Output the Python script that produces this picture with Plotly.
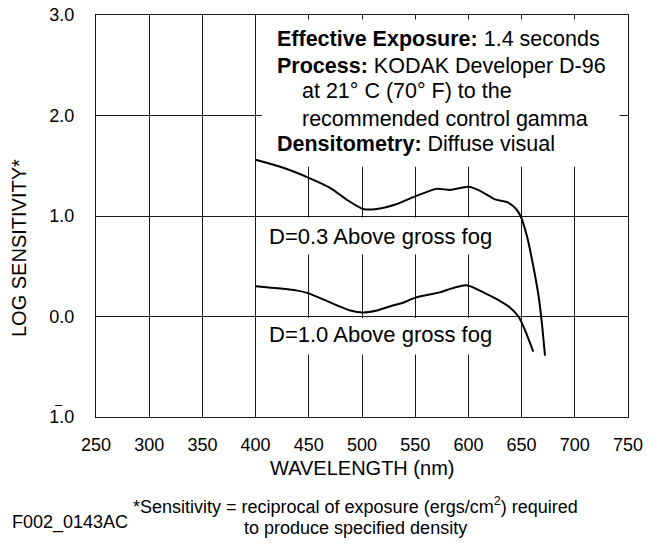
import plotly.graph_objects as go

# ---- data ----
wl_d03 = [400, 426, 450, 470, 486, 501, 514, 533, 551, 570, 583, 600, 611, 625, 636, 644, 649, 655, 661, 666, 669, 672]
ls_d03 = [1.56, 1.48, 1.38, 1.28, 1.16, 1.07, 1.07, 1.12, 1.20, 1.27, 1.26, 1.29, 1.25, 1.165, 1.14, 1.08, 1.00, 0.80, 0.50, 0.20, -0.06, -0.39]

wl_d10 = [400, 438, 450, 470, 489, 501, 514, 526, 539, 551, 573, 583, 597, 602, 614, 627, 639, 647, 653, 661]
ls_d10 = [0.30, 0.26, 0.23, 0.14, 0.06, 0.04, 0.06, 0.10, 0.14, 0.19, 0.24, 0.275, 0.31, 0.30, 0.24, 0.17, 0.09, 0.00, -0.13, -0.35]

x_ticks = [250, 300, 350, 400, 450, 500, 550, 600, 650, 700, 750]
y_ticks = [-1, 0, 1, 2, 3]
y_ticktext = ["1.0", "0.0", "1.0", "2.0", "3.0"]

FONT = "Liberation Sans, Arial, sans-serif"
INK = "#1a1a1a"

fig = go.Figure()
fig.add_trace(go.Scatter(x=wl_d03, y=ls_d03, mode="lines",
                         line=dict(color="black", width=2, shape="spline", smoothing=0.6),
                         showlegend=False, hoverinfo="skip"))
fig.add_trace(go.Scatter(x=wl_d10, y=ls_d10, mode="lines",
                         line=dict(color="black", width=2, shape="spline", smoothing=0.6),
                         showlegend=False, hoverinfo="skip"))

# white boxes hiding grid behind text (between grid and traces)
boxes = [
    (406.0, 1.49, 742.0, 2.955),
    (402.0, 0.985, 636.0, 0.617),
    (402.0, -0.015, 636.0, -0.378),
]
for x0, y0, x1, y1 in boxes:
    fig.add_shape(type="rect", x0=x0, x1=x1, y0=min(y0, y1), y1=max(y0, y1),
                  xref="x", yref="y", fillcolor="white", line=dict(width=0),
                  layer="between")

box_lines = [
    (418.5, 2.766, "<b>Effective Exposure:</b> 1.4 seconds"),
    (418.5, 2.497, "<b>Process:</b> KODAK Developer D-96"),
    (441.7, 2.239, "at 21° C (70° F) to the"),
    (441.7, 1.970, "recommended control gamma"),
    (418.5, 1.721, "<b>Densitometry:</b> Diffuse visual"),
]
for x, y, t in box_lines:
    fig.add_annotation(x=x, y=y, xref="x", yref="y", text=t, showarrow=False,
                       xanchor="left", yanchor="middle",
                       font=dict(family=FONT, size=21.5, color="black"))

for y, t in [(0.796, "D=0.3 Above gross fog"), (-0.179, "D=1.0 Above gross fog")]:
    fig.add_annotation(x=410.7, y=y, xref="x", yref="y", text=t, showarrow=False,
                       xanchor="left", yanchor="middle",
                       font=dict(family=FONT, size=22, color="black"))

# bar over the "1" of the bottom tick label (log notation for -1)
fig.add_annotation(x=-0.0695, y=0.032, xref="paper", yref="paper", text="\u2013",
                   showarrow=False, xanchor="center", yanchor="middle",
                   font=dict(family=FONT, size=13, color="black"))

# axis title and footnotes (paper coords)
fig.add_annotation(x=-0.145, y=0.42, xref="paper", yref="paper", text="LOG SENSITIVITY*",
                   textangle=-90, showarrow=False, xanchor="center", yanchor="middle",
                   font=dict(family=FONT, size=20, color="black"))
fig.add_annotation(x=0.5, y=-0.128, xref="paper", yref="paper", text="WAVELENGTH (nm)",
                   showarrow=False, xanchor="center", yanchor="middle",
                   font=dict(family=FONT, size=20, color="black"))
fig.add_annotation(x=0.487, y=-0.221, xref="paper", yref="paper",
                   text="*Sensitivity = reciprocal of exposure (ergs/cm<sup>2</sup>) required",
                   showarrow=False, xanchor="center", yanchor="middle",
                   font=dict(family=FONT, size=18, color="black"))
fig.add_annotation(x=0.487, y=-0.277, xref="paper", yref="paper",
                   text="to produce specified density",
                   showarrow=False, xanchor="center", yanchor="middle",
                   font=dict(family=FONT, size=18, color="black"))
fig.add_annotation(x=-0.162, y=-0.263, xref="paper", yref="paper", text="F002_0143AC",
                   showarrow=False, xanchor="left", yanchor="middle",
                   font=dict(family=FONT, size=18, color="black"))

fig.update_xaxes(range=[250, 750], tickvals=x_ticks, showgrid=True, gridcolor=INK, gridwidth=1,
                 showline=True, linecolor=INK, linewidth=1, mirror=True, zeroline=False,
                 ticks="", ticklabelstandoff=11, automargin=False, ticklabeloverflow="allow",
                 tickfont=dict(family=FONT, size=18, color="black"), fixedrange=True)
fig.update_yaxes(range=[-1, 3], tickvals=y_ticks, ticktext=y_ticktext, showgrid=True,
                 gridcolor=INK, gridwidth=1, showline=True, linecolor=INK, linewidth=1,
                 mirror=True, zeroline=False, ticks="", ticklabelstandoff=17,
                 automargin=False, ticklabeloverflow="allow",
                 tickfont=dict(family=FONT, size=18, color="black"), fixedrange=True)

fig.update_layout(width=662, height=544, autosize=False,
                  margin=dict(l=96, r=34, t=15, b=127, autoexpand=False),
                  paper_bgcolor="white", plot_bgcolor="white", showlegend=False)

fig.write_html("out.html", config={"displayModeBar": False},
               post_script="document.body.style.margin='0px';")
